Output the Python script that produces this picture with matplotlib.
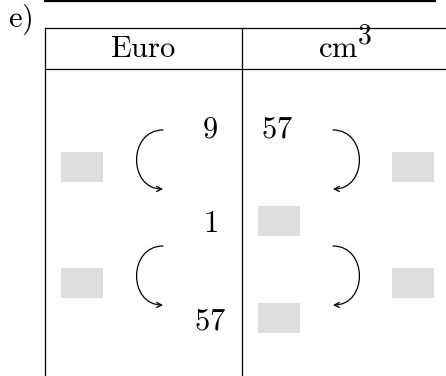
import matplotlib
matplotlib.use('Agg')
import matplotlib.pyplot as plt
from matplotlib.patches import Rectangle, FancyArrowPatch
from matplotlib.path import Path

plt.rcParams['mathtext.fontset'] = 'cm'

# ---- content ----
label = 'e)'
headers = ['Euro', 'cm']
header_sup = [None, '3']
euro_values = ['9', '1', '57']        # left column entries
cm3_values = ['57', None, None]       # right column entries (None = blank box)
n_ops = 2                             # number of operator steps (arrows + boxes)

# ---- layout (pixel coordinates) ----
W, H = 446, 376
FS = 22
row_baseline = [137, 232, 329]
arc_top = [130, 246]
arc_bot = [189, 305]
box_w, box_h = 42, 30
gray = '#dddddd'

fig = plt.figure(figsize=(W / 100, H / 100), dpi=100)
ax = fig.add_axes([0, 0, 1, 1])
ax.set_xlim(0, W)
ax.set_ylim(H, 0)
ax.axis('off')

# rules and table lines
ax.plot([45, 435], [0.8, 0.8], color='black', lw=1.6)
ax.plot([45, W], [27.5, 27.5], color='black', lw=0.9)
ax.plot([45, W], [69, 69], color='black', lw=0.9)
ax.plot([45, 45], [27.5, H], color='black', lw=0.9)
ax.plot([242, 242], [27.5, H], color='black', lw=0.9)

ax.text(8, 27, r'$\mathrm{%s}$' % label, fontsize=FS, ha='left', va='baseline')
ax.text(143.5, 57, r'$\mathrm{%s}$' % headers[0], fontsize=FS, ha='center', va='baseline')
ax.text(317.5, 57, r'$\mathrm{%s}$' % headers[1], fontsize=FS, ha='left', va='baseline')
ax.text(357, 43.5, r'$\mathrm{%s}$' % header_sup[1], fontsize=20, ha='left', va='baseline')

# column entries
for i, v in enumerate(euro_values):
    ax.text(210, row_baseline[i], r'$\mathrm{%s}$' % v, fontsize=FS,
            ha='center', va='baseline')
for i, v in enumerate(cm3_values):
    if v is None:
        cy = row_baseline[i] - 11
        ax.add_patch(Rectangle((279 - box_w / 2, cy - box_h / 2), box_w, box_h,
                               facecolor=gray, edgecolor='none'))
    else:
        ax.text(277, row_baseline[i], r'$\mathrm{%s}$' % v, fontsize=FS,
                ha='center', va='baseline')

# operator arrows and boxes
k = 35
for j in range(n_ops):
    t, b = arc_top[j], arc_bot[j]
    cy = (t + b) / 2 + 7.5
    for bx in (82, 413):
        ax.add_patch(Rectangle((bx - box_w / 2, cy - box_h / 2), box_w, box_h,
                               facecolor=gray, edgecolor='none'))
    pl = Path([(163, t), (163 - k, t), (163 - k, b), (163, b)],
              [Path.MOVETO, Path.CURVE4, Path.CURVE4, Path.CURVE4])
    pr = Path([(333, t), (333 + k, t), (333 + k, b), (333, b)],
              [Path.MOVETO, Path.CURVE4, Path.CURVE4, Path.CURVE4])
    for p in (pl, pr):
        ax.add_patch(FancyArrowPatch(path=p, arrowstyle='->', mutation_scale=9,
                                     color='black', lw=0.9))

fig.savefig('out.png', dpi=100)
